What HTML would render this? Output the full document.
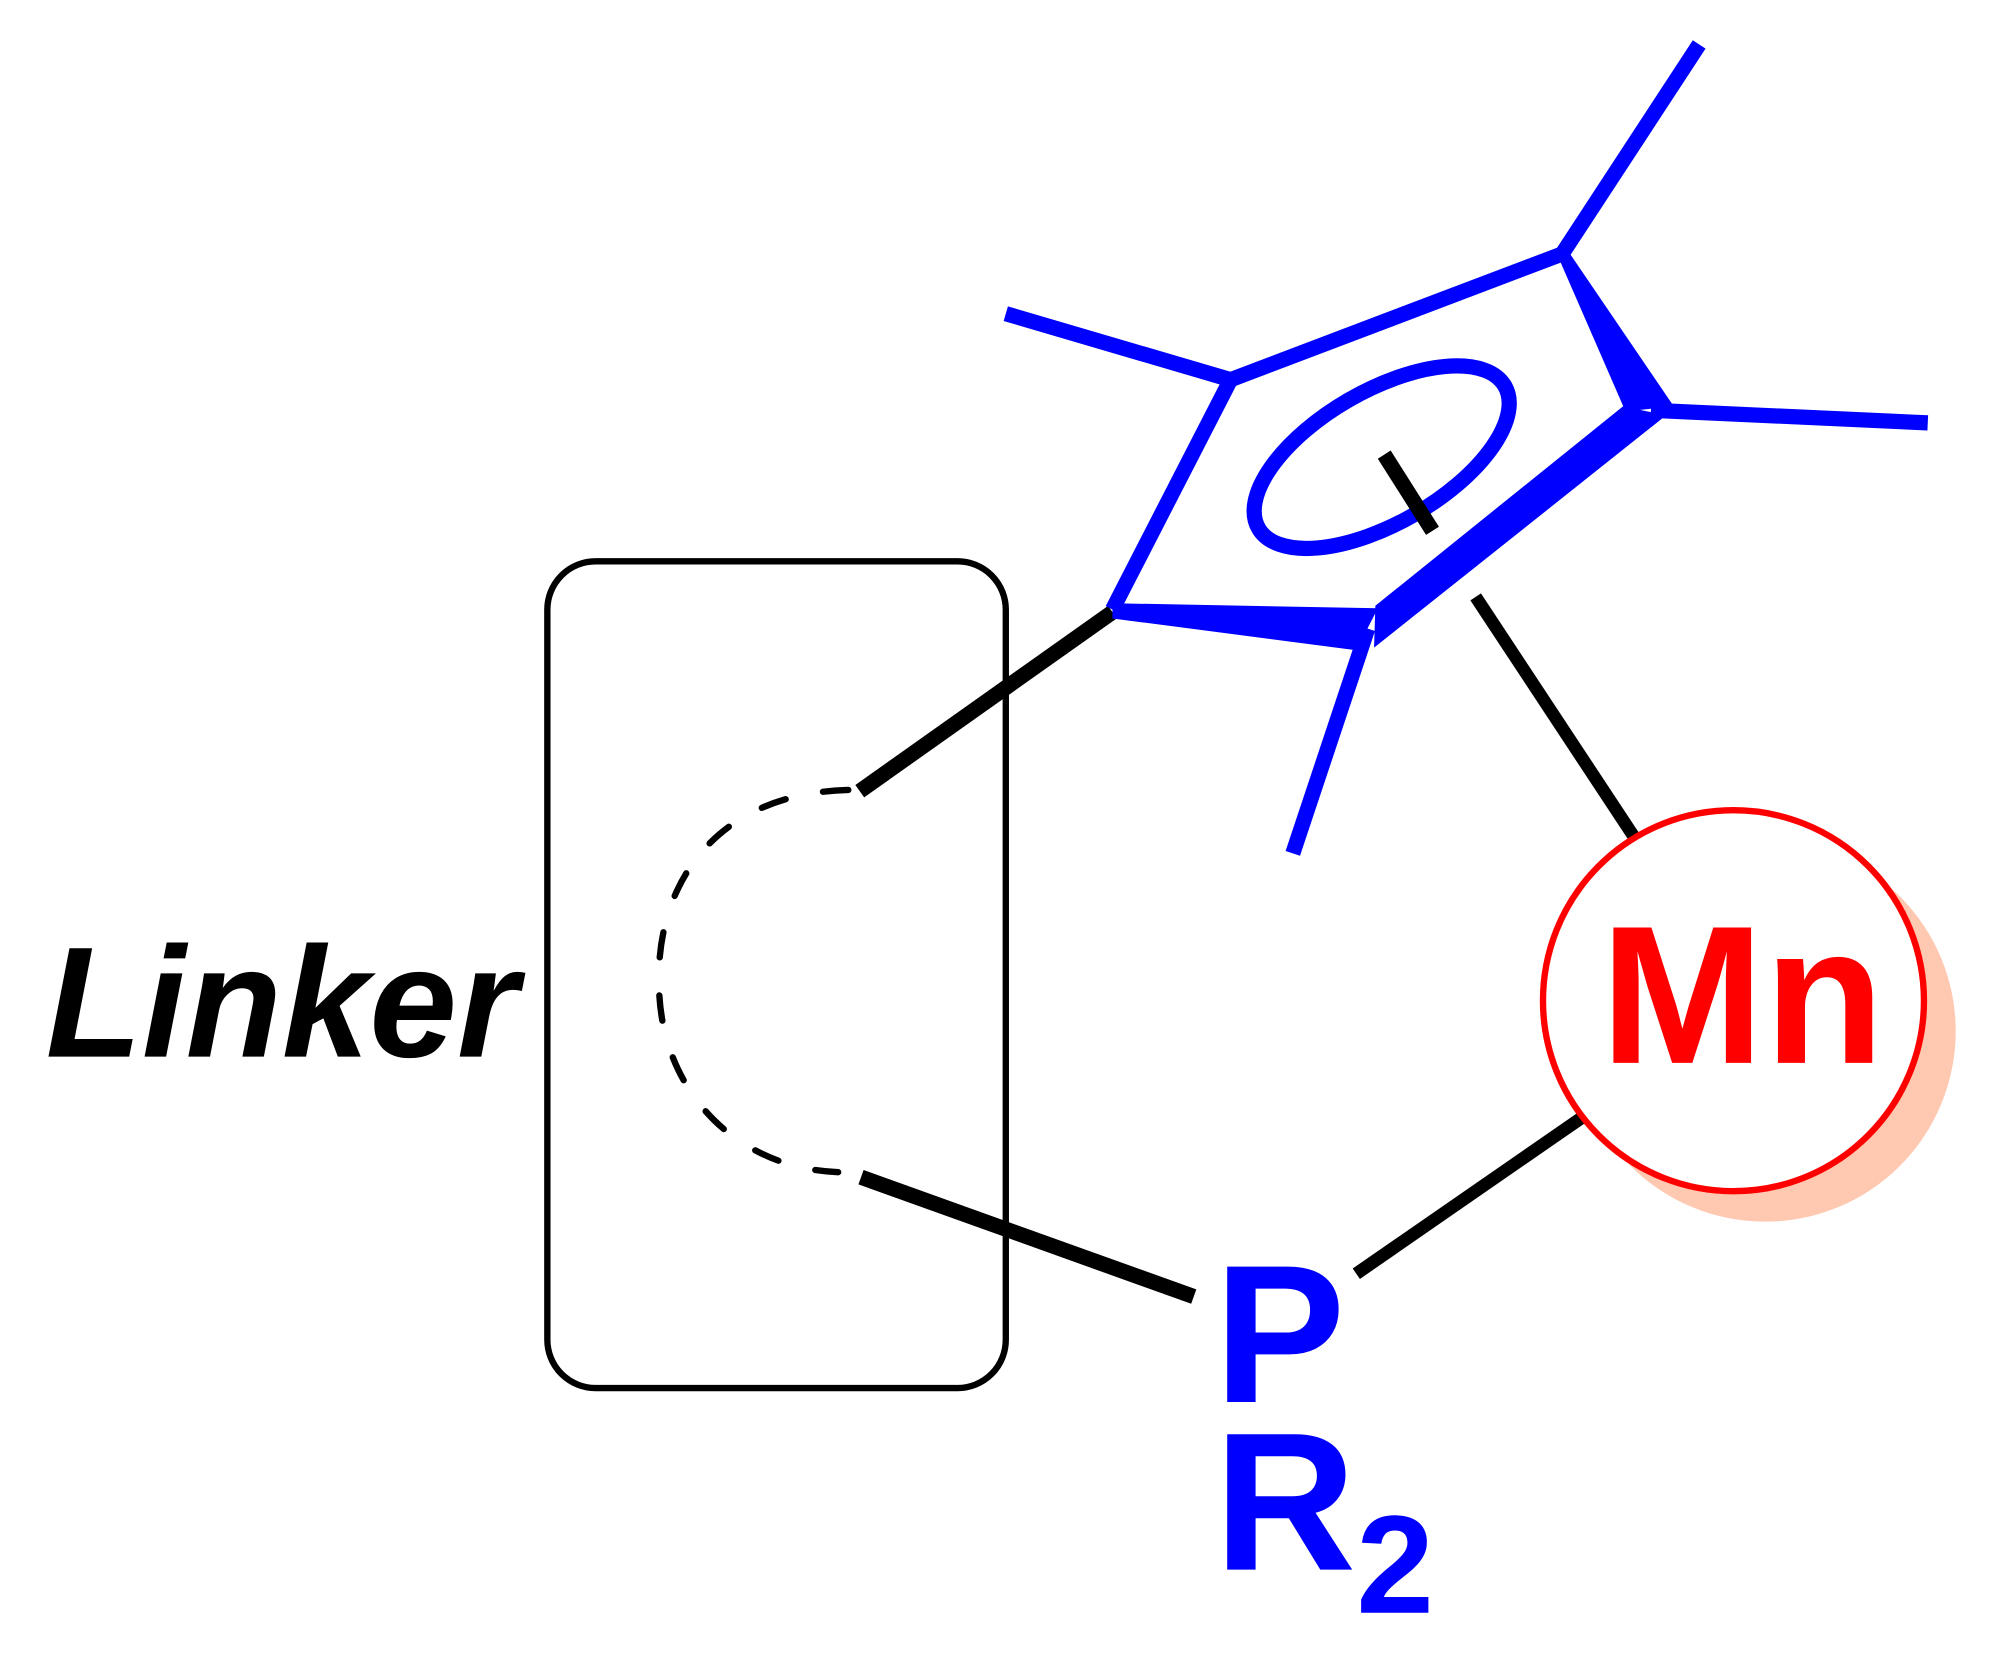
<!DOCTYPE html>
<html><head><meta charset="utf-8"><style>
html,body{margin:0;padding:0;background:#fff;}
svg{display:block;}
</style></head><body>
<svg width="1990" height="1656" viewBox="0 0 1567 1304" preserveAspectRatio="none" xmlns="http://www.w3.org/2000/svg">
<rect x="431" y="442" width="361" height="651" rx="38" ry="38" fill="none" stroke="#000" stroke-width="5"/>
<text x="36" y="832" font-family="Liberation Sans, sans-serif" font-weight="bold" font-style="italic" font-size="124" fill="#000">Linker</text>
<path d="M668,622 C560,625 515,700 519,780 C522,860 580,920 660,923" fill="none" stroke="#000" stroke-width="5" stroke-dasharray="20 30" stroke-linecap="round"/>
<line x1="677" y1="623" x2="876" y2="482" stroke="#000" stroke-width="12"/>
<line x1="678" y1="927" x2="940" y2="1021" stroke="#000" stroke-width="12"/>
<line x1="1068" y1="1003" x2="1250" y2="877" stroke="#000" stroke-width="10"/>
<line x1="1162" y1="470" x2="1288" y2="661" stroke="#000" stroke-width="10"/>
<circle cx="1390" cy="812" r="150" fill="#ffc8b0"/>
<circle cx="1365" cy="788" r="150" fill="#fff" stroke="#ff0000" stroke-width="5"/>
<text x="1372" y="837" text-anchor="middle" font-family="Liberation Sans, sans-serif" font-weight="bold" font-size="155" fill="#ff0000">Mn</text>
<text x="956" y="1104" font-family="Liberation Sans, sans-serif" font-weight="bold" font-size="155" fill="#0000ff">P</text>
<text x="956" y="1236" font-family="Liberation Sans, sans-serif" font-weight="bold" font-size="155" fill="#0000ff">R</text>
<text x="1068" y="1270" font-family="Liberation Sans, sans-serif" font-weight="bold" font-size="110" fill="#0000ff">2</text>
<g stroke="#0000ff" stroke-width="12" fill="none">
<line x1="969" y1="299" x2="792" y2="247"/>
<line x1="969" y1="299" x2="1230" y2="200"/>
<line x1="1230" y1="200" x2="1338" y2="35"/>
<line x1="1300" y1="323" x2="1518" y2="333"/>
<line x1="969" y1="299" x2="876" y2="480"/>
<line x1="1077" y1="495" x2="1018" y2="672"/>
<ellipse cx="1088" cy="360" rx="112" ry="52" transform="rotate(-30 1088 360)"/>
</g>
<polygon points="1226,200 1235,198 1318,320 1280,324" fill="#0000ff"/>
<polygon points="1278,320 1312,327 1082,510 1083,477" fill="#0000ff"/>
<polygon points="876,475 1085,479 1068,512 876,487" fill="#0000ff"/>
<line x1="1090" y1="358" x2="1128" y2="418" stroke="#000" stroke-width="12"/>
</svg>
</body></html>
